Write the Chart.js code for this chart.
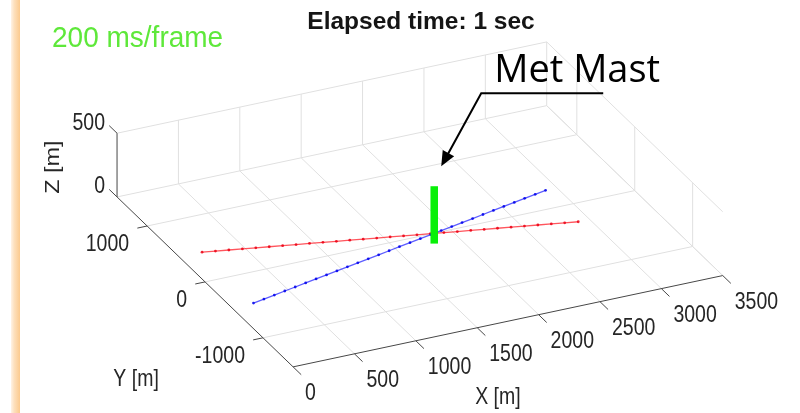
<!DOCTYPE html>
<html>
<head>
<meta charset="utf-8">
<script src="https://cdn.jsdelivr.net/npm/chart.js@4/dist/chart.umd.min.js"></script>
<style>
html,body{margin:0;padding:0;background:#fff;}
#wrap{position:relative;width:800px;height:413px;}
</style>
</head>
<body>
<div id="wrap"><canvas id="c"></canvas></div>
<script>
// ---------- data ----------
const xTicks = [0, 500, 1000, 1500, 2000, 2500, 3000, 3500];
const yTicks = [-1000, 0, 1000];
const zTicks = [0, 500];
const xLimits = [0, 3500];
const yLimits = [-1520, 1520];
const zLimits = [0, 500];

const beamHeight = 80; // m
const redX = [115, 212, 309, 407, 504, 601, 698, 795, 893, 990, 1087, 1184, 1281, 1379, 1476, 1573, 1670, 1767, 1865, 1962, 2059, 2156, 2253, 2351, 2448, 2545, 2642, 2739, 2837];
const redY = [296, 270, 244, 218, 192, 166, 140, 114, 89, 63, 37, 11, -15, -41, -67, -93, -119, -145, -171, -197, -223, -249, -274, -300, -326, -352, -378, -404, -430];
const blueX = [106, 204, 301, 399, 496, 594, 691, 789, 886, 984, 1081, 1179, 1276, 1374, 1471, 1569, 1666, 1764, 1861, 1959, 2056, 2154, 2251, 2349, 2446, 2544, 2641, 2739, 2836];
const blueY = [-611, -584, -558, -531, -505, -478, -452, -425, -399, -372, -346, -319, -293, -266, -239, -213, -186, -160, -133, -107, -80, -54, -27, 0, 26, 53, 80, 106, 132];
const mastX = 1795, mastY = -152;
const mastZ = [0, 450];

const titleText = 'Elapsed time: 1 sec';
const rateText = '200 ms/frame';
const annotText = 'Met Mast';
const xLabel = 'X [m]', yLabel = 'Y [m]', zLabel = 'Z [m]';

// ---------- view (orthographic projection of the 3-D axes) ----------
const VIEW = { ox: 203.1, oy: 283.4, ex: [0.124, -0.0266], ey: [-0.0585, -0.057], ez: [0, -0.13] };
function proj(X, Y, Z) {
  return { x: VIEW.ox + X * VIEW.ex[0] + Y * VIEW.ey[0] + Z * VIEW.ez[0],
           y: VIEW.oy + X * VIEW.ex[1] + Y * VIEW.ey[1] + Z * VIEW.ez[1] };
}

const GRID = '#e0e0e0', AXIS = '#474747';
const datasets = [];
function seg(a, b, color, width, order) {
  datasets.push({ data: [proj(...a), proj(...b)], showLine: true, borderColor: color, borderWidth: width,
    pointRadius: 0, fill: false, order: order, clip: false, borderCapStyle: 'butt' });
}
const [x0, x1] = xLimits, [y0, y1] = yLimits, [z0, z1] = zLimits;
// floor grid
xTicks.forEach(x => { if (x !== x0) seg([x, y0, z0], [x, y1, z0], GRID, 1, 20); });
yTicks.forEach(y => seg([x0, y, z0], [x1, y, z0], GRID, 1, 20));
// back wall (Y = ymax)
xTicks.forEach(x => { if (x !== x0) seg([x, y1, z0], [x, y1, z1], GRID, 1, 20); });
zTicks.forEach(z => seg([x0, y1, z], [x1, y1, z], GRID, 1, 20));
// right wall (X = xmax)
yTicks.forEach(y => seg([x1, y, z0], [x1, y, z1], GRID, 1, 20));
zTicks.forEach(z => seg([x1, y0, z], [x1, y1, z], GRID, 1, 20));
// axes
seg([x0, y0, z0], [x1, y0, z0], AXIS, 1, 10);
seg([x0, y0, z0], [x0, y1, z0], AXIS, 1, 10);
seg([x0, y1, z0], [x0, y1, z1], AXIS, 1, 10);
// tick marks
xTicks.forEach(x => seg([x, y0, z0], [x, y0 - 140, z0], AXIS, 1, 10));
yTicks.forEach(y => seg([x0, y, z0], [x0 - 80, y, z0], AXIS, 1, 10));
zTicks.forEach(z => seg([x0, y1, z], [x0, y1 + 135, z], AXIS, 1, 10));

// beams
datasets.push({ data: redX.map((x, i) => proj(x, redY[i], beamHeight)), showLine: true,
  borderColor: 'rgba(255,20,30,0.72)', borderWidth: 1.3, pointRadius: 1.4, pointBorderWidth: 0,
  pointBackgroundColor: 'rgba(235,0,20,0.85)', order: 3, clip: false });
datasets.push({ data: blueX.map((x, i) => proj(x, blueY[i], beamHeight)), showLine: true,
  borderColor: 'rgba(30,30,255,0.72)', borderWidth: 1.3, pointRadius: 1.4, pointBorderWidth: 0,
  pointBackgroundColor: 'rgba(0,0,235,0.85)', order: 2, clip: false });
// mast
datasets.push({ data: [proj(mastX, mastY, mastZ[0]), proj(mastX, mastY, mastZ[1])], showLine: true,
  borderColor: '#08f008', borderWidth: 7.5, pointRadius: 0, borderCapStyle: 'butt', order: 1, clip: false });

// ---------- text & decorations ----------
function txt(ctx, s, x, y, o) {
  ctx.save(); ctx.translate(x, y); if (o.rot) ctx.rotate(o.rot); ctx.scale(o.sx || 1, o.sy || 1);
  ctx.font = o.font; ctx.fillStyle = o.color || '#262626';
  ctx.textAlign = o.align || 'center'; ctx.textBaseline = o.base || 'middle';
  ctx.fillText(s, 0, 0); ctx.restore();
}
const TICKFONT = '19.5px "Liberation Sans", Arial, sans-serif';
const deco = {
  id: 'deco',
  beforeDraw(chart) {
    const ctx = chart.ctx;
    ctx.save();
    const g = ctx.createLinearGradient(11, 0, 20, 0);
    g.addColorStop(0, '#fff3e6'); g.addColorStop(0.35, '#fde0bd'); g.addColorStop(1, '#fcca8e');
    ctx.fillStyle = g; ctx.fillRect(11, 0, 9, chart.height);
    ctx.restore();
  },
  afterDatasetsDraw(chart) {
    const ctx = chart.ctx, sx = chart.scales.x, sy = chart.scales.y;
    const P = (X, Y, Z) => { const p = proj(X, Y, Z); return { x: sx.getPixelForValue(p.x), y: sy.getPixelForValue(p.y) }; };
    const tk = { font: TICKFONT, sy: 1.2 };
    xTicks.forEach(x => { const p = P(x, y0, z0); txt(ctx, String(x), p.x + 12, p.y + 26.5, { ...tk, align: 'left' }); });
    yTicks.forEach(y => { const p = P(x0, y, z0); txt(ctx, String(y), p.x - 18, p.y + 18.5, { ...tk, align: 'right' }); });
    zTicks.forEach(z => { const p = P(x0, y1, z); txt(ctx, String(z), p.x - 12, p.y - 10, { ...tk, align: 'right' }); });
    let p = P((x0 + x1) / 2, y0, z0); txt(ctx, xLabel, p.x - 10, p.y + 76, tk);
    p = P(x0, (y0 + y1) / 2, z0); txt(ctx, yLabel, p.x - 69, p.y + 98, tk);
    p = P(x0, y1, (z0 + z1) / 2); txt(ctx, zLabel, p.x - 63, p.y + 2, { font: TICKFONT, rot: -Math.PI / 2, sx: 1.2, sy: 1 });
    // title and frame rate
    txt(ctx, titleText, 421, 28.5, { font: 'bold 24.5px "Liberation Sans", Arial, sans-serif', color: '#151515', base: 'alphabetic' });
    txt(ctx, rateText, 52, 47, { font: '28px "Liberation Sans", Arial, sans-serif', color: '#5ee83a', align: 'left', base: 'alphabetic', sy: 1.06 });
    // annotation
    const top = P(mastX, mastY, mastZ[1]);
    const tip = { x: top.x + 7, y: top.y - 20 };
    const elbow = { x: tip.x + 40, y: tip.y - 73 };
    const end = { x: elbow.x + 122, y: elbow.y };
    ctx.save();
    ctx.strokeStyle = '#000'; ctx.lineWidth = 2;
    const dx = tip.x - elbow.x, dy = tip.y - elbow.y, L = Math.hypot(dx, dy), ux = dx / L, uy = dy / L;
    const hl = 15, hw = 6.5;
    ctx.beginPath(); ctx.moveTo(end.x, end.y); ctx.lineTo(elbow.x, elbow.y);
    ctx.lineTo(tip.x - ux * hl * 0.8, tip.y - uy * hl * 0.8); ctx.stroke();
    ctx.fillStyle = '#000'; ctx.beginPath(); ctx.moveTo(tip.x, tip.y);
    ctx.lineTo(tip.x - ux * hl - uy * hw, tip.y - uy * hl + ux * hw);
    ctx.lineTo(tip.x - ux * hl + uy * hw, tip.y - uy * hl - ux * hw);
    ctx.closePath(); ctx.fill();
    ctx.restore();
    txt(ctx, annotText, elbow.x + 13, elbow.y - 11, { font: '38px "Open Sans", sans-serif', color: '#000', align: 'left', base: 'alphabetic' });
  }
};

new Chart(document.getElementById('c'), {
  type: 'scatter',
  data: { datasets },
  options: {
    responsive: true, maintainAspectRatio: false, animation: false, events: [],
    devicePixelRatio: 1,
    layout: { padding: 0 },
    plugins: { legend: { display: false }, tooltip: { enabled: false }, title: { display: false } },
    scales: {
      x: { type: 'linear', min: 0, max: 800, display: false },
      y: { type: 'linear', min: 0, max: 413, reverse: true, display: false }
    }
  },
  plugins: [deco]
});
</script>
</body>
</html>
